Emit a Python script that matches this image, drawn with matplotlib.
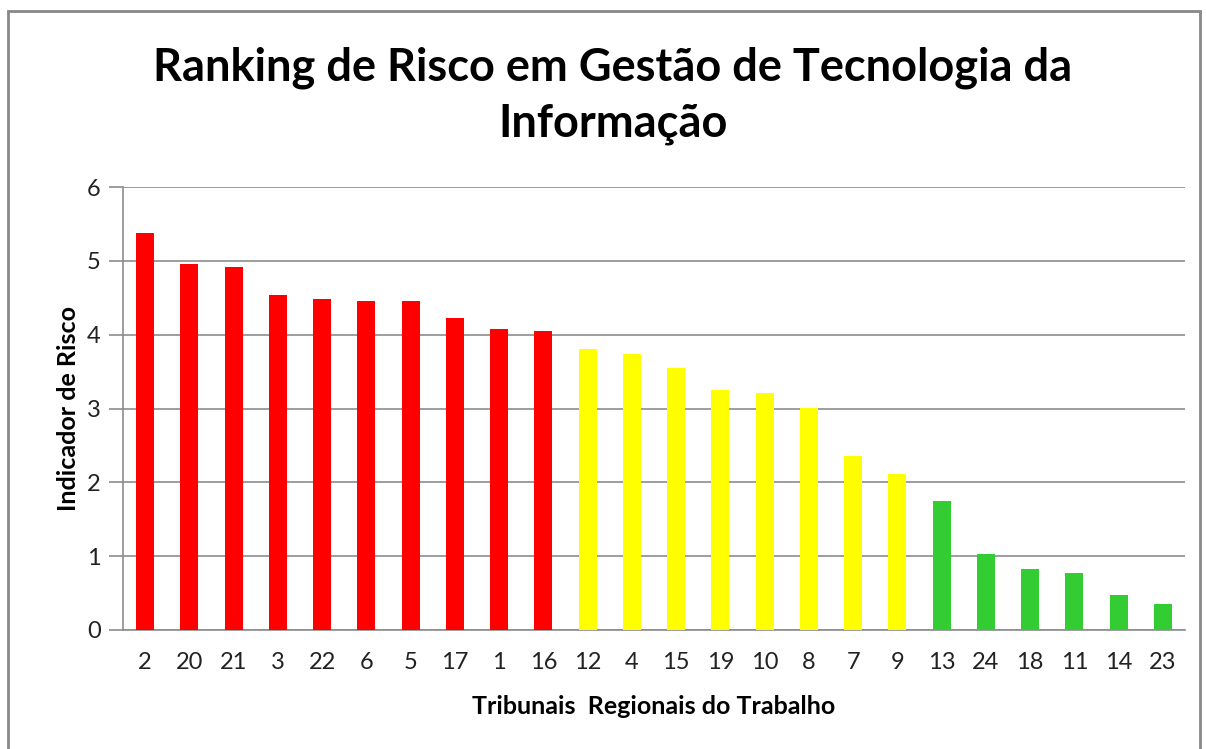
import matplotlib
matplotlib.use("Agg")
import matplotlib.pyplot as plt
from matplotlib.patches import Rectangle

# tribunais ordered by risk indicator
tribunais = ["2", "20", "21", "3", "22", "6", "5", "17", "1", "16", "12", "4",
             "15", "19", "10", "8", "7", "9", "13", "24", "18", "11", "14", "23"]
risco = [5.38, 4.96, 4.92, 4.54, 4.48, 4.45, 4.45, 4.23, 4.08, 4.05, 3.81, 3.74,
         3.55, 3.25, 3.21, 3.01, 2.36, 2.11, 1.75, 1.03, 0.83, 0.77, 0.47, 0.35]
faixa = ["alto"] * 10 + ["medio"] * 8 + ["baixo"] * 6
cores_faixa = {"alto": "#FF0000", "medio": "#FFFF00", "baixo": "#33CC33"}

plt.rcParams["font.family"] = ["Lato", "DejaVu Sans"]

fig = plt.figure(figsize=(12.06, 7.49), dpi=100)
ax = fig.add_axes([123 / 1206, 1 - 630 / 749, (1185 - 123) / 1206, (630 - 187) / 749])

cores = [cores_faixa[f] for f in faixa]
ax.bar(range(len(tribunais)), risco, width=0.41, color=cores, zorder=3)

ax.set_xlim(-0.5, len(tribunais) - 0.5)
ax.set_ylim(0, 6)
ax.set_yticks(range(0, 7))
ax.set_xticks(range(len(tribunais)))
ax.set_xticklabels(tribunais)
ax.grid(axis="y", color="#8c8c8c", linewidth=1.2, zorder=0)

for s in ["top", "right"]:
    ax.spines[s].set_visible(False)
for s in ["left", "bottom"]:
    ax.spines[s].set_color("#8c8c8c")
    ax.spines[s].set_linewidth(1.2)

ax.tick_params(axis="y", length=10, width=1.2, color="#8c8c8c", labelsize=17, pad=6, labelcolor="#222222")
ax.tick_params(axis="x", length=0, labelsize=17, pad=16, labelcolor="#222222")

ax.set_xlabel("Tribunais  Regionais do Trabalho", fontsize=18, fontweight="bold", labelpad=16)
ax.set_ylabel("Indicador de Risco", fontsize=18, fontweight="bold", labelpad=5)

fig.text(0.508, 0.872, "Ranking de Risco em Gestão de Tecnologia da\nInformação",
         ha="center", va="center", fontsize=32.5, fontweight="bold", linespacing=1.4)

# chart border
fig.patches.append(Rectangle((8 / 1206, -0.01), (1200 - 8) / 1206, 1 - 11 / 749 + 0.01,
                             transform=fig.transFigure, fill=False,
                             edgecolor="#888888", linewidth=2))

fig.savefig("out.png", dpi=100)
